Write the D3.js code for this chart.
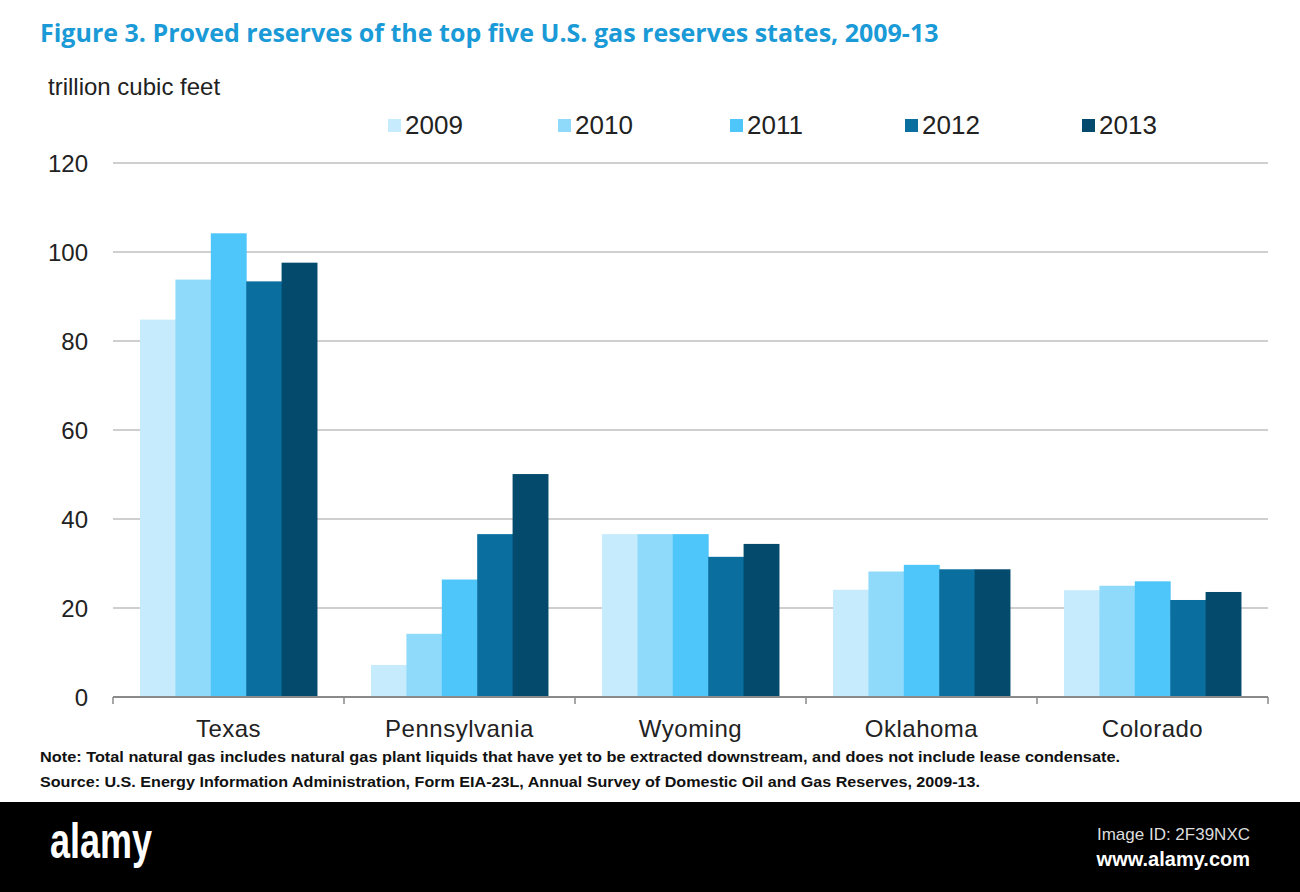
<!DOCTYPE html>
<html><head><meta charset="utf-8">
<script src="https://cdn.jsdelivr.net/npm/d3@7"></script>
<style>body{margin:0;background:#fff}svg{display:block}</style>
</head><body>
<script>
const states = ["Texas","Pennsylvania","Wyoming","Oklahoma","Colorado"];
const years = ["2009","2010","2011","2012","2013"];
const v2009 = [84.8, 7.2, 36.6, 24.1, 24.0];
const v2010 = [93.8, 14.2, 36.6, 28.2, 25.0];
const v2011 = [104.2, 26.4, 36.6, 29.7, 26.0];
const v2012 = [93.4, 36.6, 31.5, 28.7, 21.8];
const v2013 = [97.6, 50.1, 34.4, 28.7, 23.6];
const yTicks = [0,20,40,60,80,100,120];
const colors = ["#c5ebfc","#8fd9fb","#4fc6f9","#0a6f9f","#044a6c"];
const series = [v2009,v2010,v2011,v2012,v2013];

const W=1300,H=892;
const svg = d3.select("body").append("svg").attr("width",W).attr("height",H);
svg.append("rect").attr("width",W).attr("height",H).attr("fill","#fff");

const x0 = d3.scaleBand().domain(states).range([113,1268]).paddingInner(0.234).paddingOuter(0.117);
const x1 = d3.scaleBand().domain(years).range([0,x0.bandwidth()]);
const y = d3.scaleLinear().domain([0,120]).range([697,163]);

// title
svg.append("text").attr("x",40).attr("y",42)
  .attr("font-family","'Liberation Sans Narrow', 'Open Sans', sans-serif")
  .attr("font-weight","bold").attr("font-size",25).attr("fill","#1a9ad6")
  .text("Figure 3. Proved reserves of the top five U.S. gas reserves states, 2009-13");

svg.append("text").attr("x",48).attr("y",95)
  .attr("font-family","'Liberation Sans Narrow', sans-serif").attr("font-size",24).attr("fill","#222")
  .text("trillion  cubic feet");

// gridlines
svg.append("g").selectAll("line").data(yTicks.filter(d=>d>0)).join("line")
  .attr("x1",113).attr("x2",1268).attr("y1",d=>y(d)).attr("y2",d=>y(d))
  .attr("stroke","#cfcfcf").attr("stroke-width",2);

// y labels
svg.append("g").selectAll("text").data(yTicks).join("text")
  .attr("x",88).attr("y",d=>y(d)+9).attr("text-anchor","end")
  .attr("font-family","'Liberation Sans', Arial, sans-serif").attr("font-size",24).attr("fill","#222")
  .text(d=>d);

// bars
const g = svg.append("g");
states.forEach((s,i)=>{
  years.forEach((yr,j)=>{
    g.append("rect").attr("x",x0(s)+x1(yr)).attr("width",x1.bandwidth()+0.5)
      .attr("y",y(series[j][i])).attr("height",y(0)-y(series[j][i]))
      .attr("fill",colors[j]);
  });
});

// x axis
const xb = [113, ...states.map(s=>x0(s)+x0.bandwidth()+x0.step()*x0.paddingInner()/2)];
svg.append("line").attr("x1",113).attr("x2",1268).attr("y1",697).attr("y2",697).attr("stroke","#8a8a8a").attr("stroke-width",2);
svg.append("g").selectAll("line").data(xb).join("line")
  .attr("x1",d=>d).attr("x2",d=>d).attr("y1",697).attr("y2",704).attr("stroke","#8a8a8a").attr("stroke-width",1.5);
svg.append("g").selectAll("text").data(states).join("text")
  .attr("x",d=>x0(d)+x0.bandwidth()/2).attr("y",737).attr("text-anchor","middle")
  .attr("font-family","'Liberation Sans', Arial, sans-serif").attr("font-size",24).attr("fill","#222")
  .attr("letter-spacing",0.5)
  .text(d=>d);

// legend
const lx = [388,558,730,905,1082];
const leg = svg.append("g");
years.forEach((yr,j)=>{
  leg.append("rect").attr("x",lx[j]).attr("y",119).attr("width",13).attr("height",13).attr("fill",colors[j]);
  leg.append("text").attr("x",lx[j]+17).attr("y",134)
    .attr("font-family","'Liberation Sans Narrow', sans-serif").attr("font-size",26).attr("fill","#222")
    .text(yr);
});

// notes
svg.append("text").attr("x",40).attr("y",762)
  .attr("font-family","'Liberation Sans Narrow', sans-serif").attr("font-weight","bold").attr("font-size",15.5).attr("fill","#111")
  .attr("textLength",1080).attr("lengthAdjust","spacingAndGlyphs")
  .text("Note: Total natural gas includes natural gas plant liquids that have yet to be extracted downstream, and does not include lease condensate.");
svg.append("text").attr("x",40).attr("y",787)
  .attr("font-family","'Liberation Sans Narrow', sans-serif").attr("font-weight","bold").attr("font-size",15.5).attr("fill","#111")
  .attr("textLength",940).attr("lengthAdjust","spacingAndGlyphs")
  .text("Source: U.S. Energy Information Administration, Form EIA-23L, Annual Survey of Domestic Oil and Gas Reserves, 2009-13.");

// bottom band
svg.append("rect").attr("x",0).attr("y",802).attr("width",W).attr("height",90).attr("fill","#000");
svg.append("text").attr("x",50).attr("y",858)
  .attr("font-family","'Liberation Sans Narrow', sans-serif").attr("font-weight","bold").attr("font-size",50).attr("fill","#fff")
  .attr("textLength",102).attr("lengthAdjust","spacingAndGlyphs").text("alamy");
svg.append("text").attr("x",1250).attr("y",840).attr("text-anchor","end")
  .attr("font-family","'Liberation Sans Narrow', sans-serif").attr("font-size",17).attr("fill","#ddd").text("Image ID: 2F39NXC");
svg.append("text").attr("x",1250).attr("y",866).attr("text-anchor","end")
  .attr("font-family","'Liberation Sans Narrow', sans-serif").attr("font-weight","bold").attr("font-size",20).attr("fill","#fff").text("www.alamy.com");
</script>
</body></html>
